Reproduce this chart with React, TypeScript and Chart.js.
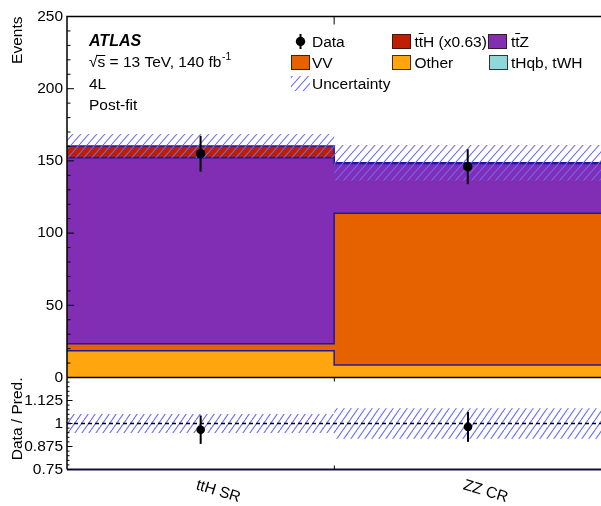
import React, { useEffect, useRef } from 'react';
import { Chart, registerables } from 'chart.js';

Chart.register(...registerables);

// ---------------- data ----------------
const categories = ['ttH SR', 'ZZ CR'];
const binEdges = [0, 1, 2];
const otherYield = [18.6, 8.7];
const vvYield = [4.8, 105.1];
const ttZYield = [128.7, 34.4];
const tHqbYield = [0.3, 0.1];
const ttHYield = [8.0, 0.4];
const dataYield = [155, 146];
const dataErr = [12.4, 12.1];
const systUnc = [8.3, 12.3];
const upperTicks = [0, 50, 100, 150, 200, 250];
const upperMinorStep = 10;
const ratioTicks = [0.75, 0.875, 1, 1.125, 1.25];
const ratioMinorStep = 0.025;
const ratioRef = 1;

// ---------------- derived ----------------
const stackParts = [otherYield, vvYield, ttZYield, tHqbYield, ttHYield];
const cumul: number[][] = [];
stackParts.forEach((arr, k) => {
  cumul.push(arr.map((v, i) => v + (k > 0 ? cumul[k - 1][i] : 0)));
});
const totals = cumul[cumul.length - 1];
const ratio = dataYield.map((v, i) => v / totals[i]);
const ratioErr = dataErr.map((e, i) => e / totals[i]);
const ratioUnc = systUnc.map((u, i) => u / totals[i]);

const stepPts = (vals: number[]) =>
  binEdges.map((e, i) => ({ x: e, y: vals[Math.min(i, vals.length - 1)] }));

// ---------------- style ----------------
const FONT = '"Liberation Sans", Arial, Helvetica, sans-serif';
const C_OTHER = '#ffa60e';
const C_VV = '#e66200';
const C_TTZ = '#822eb4';
const C_THQB = '#8fd8d8';
const C_TTH = '#bf1f00';
const C_LINE = '#23189a';
const HATCH = '#6b6bff';
const CW = 606;
const CH = 506;

function makeHatch(w: number, h: number) {
  const c = document.createElement('canvas');
  c.width = w;
  c.height = h;
  const g = c.getContext('2d')!;
  g.strokeStyle = HATCH;
  g.lineWidth = 1.1;
  for (const dx of [-w, 0, w]) {
    g.beginPath();
    g.moveTo(dx, h);
    g.lineTo(dx + w, 0);
    g.stroke();
  }
  return g.createPattern(c, 'repeat')!;
}

function drawTTbar(ctx: CanvasRenderingContext2D, x: number, y: number, suffix: string) {
  const wt = ctx.measureText('t').width;
  ctx.fillText('t', x, y);
  ctx.fillText('t', x + wt, y);
  ctx.save();
  ctx.lineWidth = 1;
  ctx.strokeStyle = '#000';
  ctx.beginPath();
  ctx.moveTo(x + wt, y - 13.5);
  ctx.lineTo(x + 2 * wt + 0.5, y - 13.5);
  ctx.stroke();
  ctx.restore();
  ctx.fillText(suffix, x + 2 * wt, y);
}

function yTicks(ctx: CanvasRenderingContext2D, ys: any, left: number, min: number, max: number, minor: number, majors: number[], majLen: number, minLen: number) {
  ctx.beginPath();
  const n = Math.round((max - min) / minor);
  for (let k = 0; k <= n; k++) {
    const v = min + k * minor;
    const isMajor = majors.some((m) => Math.abs(m - v) < 1e-6);
    const y = ys.getPixelForValue(v);
    ctx.moveTo(left, y);
    ctx.lineTo(left + (isMajor ? majLen : minLen), y);
  }
  ctx.stroke();
}

export default function App() {
  const topRef = useRef<HTMLCanvasElement>(null);
  const botRef = useRef<HTMLCanvasElement>(null);

  useEffect(() => {
    const hatchTop = makeHatch(8, 9);
    const hatchBot = makeHatch(7, 10);
    const tickFont = { family: FONT, size: 15.5 };

    const stepDs = (vals: number[], color: string) => ({
      type: 'line' as const,
      data: stepPts(vals),
      stepped: 'before' as const,
      borderColor: C_LINE,
      borderWidth: 1.5,
      backgroundColor: color,
      fill: 'origin',
      pointRadius: 0,
    });

    const topDecor = {
      id: 'topDecor',
      afterDatasetsDraw(chart: any) {
        const { ctx, scales } = chart;
        const xs = scales.x;
        const ys = scales.y;
        ctx.save();
        ctx.strokeStyle = '#000';
        ctx.lineWidth = 2;
        dataYield.forEach((v, i) => {
          const x = xs.getPixelForValue(binEdges[i] + 0.5);
          ctx.beginPath();
          ctx.moveTo(x, ys.getPixelForValue(v - dataErr[i]));
          ctx.lineTo(x, ys.getPixelForValue(v + dataErr[i]));
          ctx.stroke();
        });
        ctx.restore();
      },
      afterDraw(chart: any) {
        const { ctx, chartArea: a, scales } = chart;
        const xs = scales.x;
        const ys = scales.y;
        ctx.save();
        // frame
        ctx.strokeStyle = '#000';
        ctx.lineWidth = 1.5;
        ctx.beginPath();
        ctx.moveTo(a.left, a.bottom);
        ctx.lineTo(a.left, a.top);
        ctx.lineTo(a.right, a.top);
        ctx.stroke();
        ctx.lineWidth = 1;
        yTicks(ctx, ys, a.left, 0, 250, upperMinorStep, upperTicks, 7, 3.5);
        // x tick at bin boundary on top edge
        ctx.beginPath();
        const xb = xs.getPixelForValue(binEdges[1]);
        ctx.moveTo(xb, a.top);
        ctx.lineTo(xb, a.top + 8);
        ctx.stroke();

        // ATLAS label block
        ctx.fillStyle = '#000';
        ctx.textBaseline = 'alphabetic';
        ctx.textAlign = 'left';
        ctx.font = `italic bold 16px ${FONT}`;
        ctx.fillText('ATLAS', 89, 46);
        ctx.font = `15.5px ${FONT}`;
        const sq = ctx.measureText('\u221A').width;
        const sw = ctx.measureText('s').width;
        const line2 = '\u221As = 13 TeV, 140 fb';
        ctx.fillText(line2, 89, 67);
        ctx.beginPath();
        ctx.lineWidth = 1;
        ctx.moveTo(89 + sq - 1, 55.5);
        ctx.lineTo(89 + sq + sw, 55.5);
        ctx.stroke();
        const l2w = ctx.measureText(line2).width;
        ctx.font = `10.5px ${FONT}`;
        ctx.fillText('-1', 89 + l2w + 0.5, 60);
        ctx.font = `15.5px ${FONT}`;
        ctx.fillText('4L', 89, 88.5);
        ctx.fillText('Post-fit', 89, 110);

        // legend
        const rows = [41.5, 62.5, 83.5];
        const box = (x: number, yc: number, fill: any, border: boolean) => {
          ctx.fillStyle = fill;
          ctx.fillRect(x, yc - 7.5, 19, 15);
          if (border) {
            ctx.strokeStyle = 'rgba(45,20,20,0.85)';
            ctx.lineWidth = 1;
            ctx.strokeRect(x + 0.5, yc - 7, 18, 14);
          }
        };
        // Data marker
        ctx.strokeStyle = '#000';
        ctx.lineWidth = 2;
        ctx.beginPath();
        ctx.moveTo(300.5, rows[0] - 7.5);
        ctx.lineTo(300.5, rows[0] + 7.5);
        ctx.stroke();
        ctx.fillStyle = '#000';
        ctx.beginPath();
        ctx.arc(300.5, rows[0], 4.7, 0, Math.PI * 2);
        ctx.fill();
        box(392, rows[0], C_TTH, true);
        box(488, rows[0], C_TTZ, true);
        box(291, rows[1], C_VV, true);
        box(392, rows[1], C_OTHER, true);
        box(489, rows[1], C_THQB, true);
        box(291, rows[2], hatchTop, false);
        ctx.fillStyle = '#000';
        ctx.font = `15.5px ${FONT}`;
        ctx.fillText('Data', 312, rows[0] + 5.5);
        drawTTbar(ctx, 414.5, rows[0] + 5.5, 'H (x0.63)');
        drawTTbar(ctx, 511, rows[0] + 5.5, 'Z');
        ctx.fillText('VV', 312, rows[1] + 5.5);
        ctx.fillText('Other', 414.5, rows[1] + 5.5);
        ctx.fillText('tHqb, tWH', 511, rows[1] + 5.5);
        ctx.fillText('Uncertainty', 312, rows[2] + 5.5);
        ctx.restore();
      },
    };

    const topChart = new Chart(topRef.current!, {
      type: 'line',
      data: {
        datasets: [
          {
            type: 'line',
            data: dataYield.map((v, i) => ({ x: binEdges[i] + 0.5, y: v })),
            showLine: false,
            pointRadius: 4.7,
            pointBackgroundColor: '#000',
            pointBorderWidth: 0,
            borderColor: '#000',
          },
          {
            type: 'line',
            data: stepPts(totals.map((t, i) => t - systUnc[i])),
            stepped: 'before',
            borderColor: 'rgba(0,0,0,0)',
            borderWidth: 0,
            backgroundColor: hatchTop,
            fill: '+1',
            pointRadius: 0,
          },
          {
            type: 'line',
            data: stepPts(totals.map((t, i) => t + systUnc[i])),
            stepped: 'before',
            borderColor: 'rgba(0,0,0,0)',
            borderWidth: 0,
            fill: false,
            pointRadius: 0,
          },
          stepDs(cumul[0], C_OTHER),
          stepDs(cumul[1], C_VV),
          stepDs(cumul[2], C_TTZ),
          stepDs(cumul[3], C_THQB),
          stepDs(cumul[4], C_TTH),
        ] as any,
      },
      options: {
        animation: false,
        responsive: false,
        events: [],
        layout: { padding: { left: 0, right: 0, top: 16.5, bottom: CH - 377.5 } },
        plugins: { legend: { display: false }, tooltip: { enabled: false } },
        scales: {
          x: { type: 'linear', min: 0, max: 2, display: false },
          y: {
            min: 0,
            max: 250,
            afterBuildTicks: (s: any) => {
              s.ticks = upperTicks.map((v) => ({ value: v }));
            },
            afterFit: (s: any) => {
              s.width = 67;
              s.paddingTop = 0;
              s.paddingBottom = 0;
            },
            grid: { display: false, drawTicks: false },
            border: { display: false },
            ticks: { font: tickFont, color: '#000', padding: 4 },
            title: {
              display: true,
              text: 'Events',
              align: 'end',
              color: '#000',
              font: tickFont,
              padding: { top: 8, bottom: 0 },
            },
          },
        },
      } as any,
      plugins: [topDecor],
    });

    const botDecor = {
      id: 'botDecor',
      afterDatasetsDraw(chart: any) {
        const { ctx, scales } = chart;
        const xs = scales.x;
        const ys = scales.y;
        ctx.save();
        ctx.strokeStyle = '#000';
        ctx.lineWidth = 2;
        ratio.forEach((v, i) => {
          const x = xs.getPixelForValue(binEdges[i] + 0.5);
          ctx.beginPath();
          ctx.moveTo(x, ys.getPixelForValue(v - ratioErr[i]));
          ctx.lineTo(x, ys.getPixelForValue(v + ratioErr[i]));
          ctx.stroke();
        });
        ctx.restore();
      },
      afterDraw(chart: any) {
        const { ctx, chartArea: a, scales } = chart;
        const xs = scales.x;
        const ys = scales.y;
        ctx.save();
        ctx.strokeStyle = '#000';
        ctx.lineWidth = 1.5;
        ctx.beginPath();
        ctx.moveTo(a.left, a.top);
        ctx.lineTo(a.right, a.top);
        ctx.moveTo(a.left, a.top);
        ctx.lineTo(a.left, a.bottom);
        ctx.stroke();
        ctx.strokeStyle = '#101040';
        ctx.lineWidth = 2;
        ctx.beginPath();
        ctx.moveTo(a.left, a.bottom);
        ctx.lineTo(a.right, a.bottom);
        ctx.stroke();
        ctx.strokeStyle = '#000';
        ctx.lineWidth = 1;
        yTicks(ctx, ys, a.left, ratioTicks[0], ratioTicks[ratioTicks.length - 1], ratioMinorStep, ratioTicks, 5.5, 2.5);
        const xb = xs.getPixelForValue(binEdges[1]);
        ctx.beginPath();
        ctx.moveTo(xb, a.top);
        ctx.lineTo(xb, a.top + 4);
        ctx.moveTo(xb, a.bottom);
        ctx.lineTo(xb, a.bottom - 4);
        ctx.stroke();
        // rotated category labels
        ctx.fillStyle = '#000';
        ctx.font = `15.5px ${FONT}`;
        ctx.textAlign = 'left';
        ctx.textBaseline = 'top';
        categories.forEach((c, i) => {
          const x = xs.getPixelForValue(binEdges[i] + 0.5);
          ctx.save();
          ctx.translate(x - 2, 477.5);
          ctx.rotate((17 * Math.PI) / 180);
          ctx.fillText(c, 0, 0);
          ctx.restore();
        });
        ctx.restore();
      },
    };

    const botChart = new Chart(botRef.current!, {
      type: 'line',
      data: {
        datasets: [
          {
            type: 'line',
            data: ratio.map((v, i) => ({ x: binEdges[i] + 0.5, y: v })),
            showLine: false,
            pointRadius: 4.3,
            pointBackgroundColor: '#000',
            pointBorderWidth: 0,
            borderColor: '#000',
          },
          {
            type: 'line',
            data: [
              { x: binEdges[0], y: ratioRef },
              { x: binEdges[binEdges.length - 1], y: ratioRef },
            ],
            borderColor: '#000',
            borderWidth: 1.5,
            borderDash: [4, 3],
            pointRadius: 0,
            fill: false,
          },
          {
            type: 'line',
            data: stepPts(ratioUnc.map((u) => ratioRef - u)),
            stepped: 'before',
            borderColor: 'rgba(0,0,0,0)',
            borderWidth: 0,
            backgroundColor: hatchBot,
            fill: '+1',
            pointRadius: 0,
          },
          {
            type: 'line',
            data: stepPts(ratioUnc.map((u) => ratioRef + u)),
            stepped: 'before',
            borderColor: 'rgba(0,0,0,0)',
            borderWidth: 0,
            fill: false,
            pointRadius: 0,
          },
        ] as any,
      },
      options: {
        animation: false,
        responsive: false,
        events: [],
        layout: { padding: { left: 0, right: 0, top: 377.5, bottom: CH - 469.5 } },
        plugins: { legend: { display: false }, tooltip: { enabled: false } },
        scales: {
          x: { type: 'linear', min: 0, max: 2, display: false },
          y: {
            min: ratioTicks[0],
            max: ratioTicks[ratioTicks.length - 1],
            afterBuildTicks: (s: any) => {
              s.ticks = ratioTicks.map((v) => ({ value: v }));
            },
            afterFit: (s: any) => {
              s.width = 67;
              s.paddingTop = 0;
              s.paddingBottom = 0;
            },
            grid: { display: false, drawTicks: false },
            border: { display: false },
            ticks: {
              font: tickFont,
              color: '#000',
              padding: 4,
              callback: (v: any) => (Math.abs(v - ratioTicks[ratioTicks.length - 1]) < 1e-9 ? '' : String(v)),
            },
            title: {
              display: true,
              text: 'Data / Pred.',
              align: 'end',
              color: '#000',
              font: tickFont,
              padding: { top: 8, bottom: 0 },
            },
          },
        },
      } as any,
      plugins: [botDecor],
    });

    return () => {
      topChart.destroy();
      botChart.destroy();
    };
  }, []);

  return (
    <div style={{ position: 'fixed', left: 0, top: 0, width: 601, height: 506, overflow: 'hidden', background: '#fff' }}>
      <canvas ref={topRef} width={CW} height={CH} style={{ position: 'absolute', left: 0, top: 0 }} />
      <canvas ref={botRef} width={CW} height={CH} style={{ position: 'absolute', left: 0, top: 0 }} />
    </div>
  );
}
